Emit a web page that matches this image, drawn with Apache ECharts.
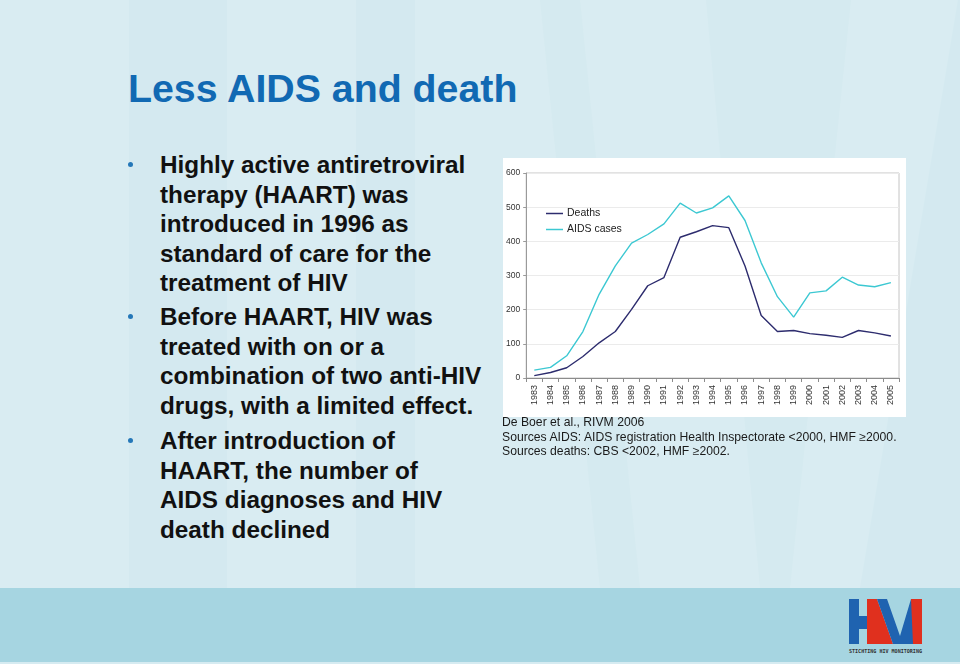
<!DOCTYPE html>
<html>
<head>
<meta charset="utf-8">
<script src="https://cdn.jsdelivr.net/npm/echarts@6/dist/echarts.min.js"></script>
<style>
html,body{margin:0;padding:0;}
body{width:960px;height:664px;position:relative;overflow:hidden;background:#d9ecf2;font-family:"Liberation Sans",Arial,Helvetica,sans-serif;}
#bg{position:absolute;left:0;top:0;}
#title{position:absolute;left:128px;top:69px;font-size:39.3px;line-height:1;font-weight:bold;color:#1169b3;white-space:nowrap;}
.para{position:absolute;left:160px;font-size:24.3px;line-height:29.5px;font-weight:bold;color:#111;white-space:nowrap;}
.dot{position:absolute;left:128px;width:5px;height:5px;border-radius:50%;background:#2477b8;}
#chart{position:absolute;left:503px;top:158px;width:403px;height:259px;background:#ffffff;}
#note{position:absolute;left:502px;top:415px;font-size:12.2px;line-height:14.6px;color:#1a1a1a;white-space:nowrap;}
</style>
</head>
<body>
<svg id="bg" width="960" height="664" xmlns="http://www.w3.org/2000/svg">
  <rect x="0" y="0" width="960" height="664" fill="#d9ecf2"/>
  <rect x="129" y="0" width="98" height="588" fill="#d4e9f0"/>
  <rect x="356" y="0" width="59" height="588" fill="#d4e9f0"/>
  <polygon points="540,0 580,0 640,588 600,588" fill="#d5eaf0"/>
  <polygon points="706,0 851,0 790,588 760,588" fill="#d5eaf0"/>
  <polygon points="958,0 960,0 960,588 860,588" fill="#d4e9f0"/>
  <rect x="0" y="588" width="960" height="74" fill="#a6d5e1"/>
  <rect x="0" y="662" width="960" height="2" fill="#d6ebf1"/>
  <!-- logo -->
  <rect x="849" y="599" width="10" height="45" fill="#1f63b0"/>
  <rect x="858" y="616" width="10" height="13" fill="#1f63b0"/>
  <polygon points="867,599 877,599 893,644 867,644" fill="#e0301e"/>
  <polygon points="877,599 887,599 900,636 911,599 913,599 913,644 893,644" fill="#1f63b0"/>
  <polygon points="911,599 922,599 922,644 913,644" fill="#e0301e"/>
  <text x="849" y="653" font-size="5.5" font-family="DejaVu Sans Mono, monospace" font-weight="bold" fill="#333" textLength="73" lengthAdjust="spacingAndGlyphs">STICHTING HIV MONITORING</text>
</svg>

<div id="title">Less AIDS and death</div>

<div class="dot" style="top:162px"></div>
<div class="para" style="top:150px">Highly active antiretroviral<br>therapy (HAART) was<br>introduced in 1996 as<br>standard of care for the<br>treatment of HIV</div>

<div class="dot" style="top:314px"></div>
<div class="para" style="top:302px">Before HAART, HIV was<br>treated with on or a<br>combination of two anti-HIV<br>drugs, with a limited effect.</div>

<div class="dot" style="top:438px"></div>
<div class="para" style="top:426px">After introduction of<br>HAART, the number of<br>AIDS diagnoses and HIV<br>death declined</div>

<div id="chart"></div>

<div id="note">De Boer et al., RIVM 2006<br>Sources AIDS: AIDS registration Health Inspectorate &lt;2000, HMF &#8805;2000.<br>Sources deaths: CBS &lt;2002, HMF &#8805;2002.</div>

<script>
// ---- data ----
const years = ['1983','1984','1985','1986','1987','1988','1989','1990','1991','1992','1993','1994','1995','1996','1997','1998','1999','2000','2001','2002','2003','2004','2005'];
const deaths = [7,16,30,63,103,136,201,270,294,412,428,446,440,328,183,136,139,130,125,119,139,132,123];
const aidsCases = [23,31,65,136,245,328,395,420,451,512,483,498,533,461,337,238,178,249,255,295,272,267,279];
const seriesNames = ['Deaths','AIDS cases'];
const yMin = 0, yMax = 600, yInterval = 100;

const chart = echarts.init(document.getElementById('chart'), null, {renderer:'canvas'});
chart.setOption({
  animation:false,
  backgroundColor:'#ffffff',
  textStyle:{fontFamily:'"Liberation Sans", Arial, sans-serif'},
  grid:{left:22,right:7,top:15,bottom:39,show:true,borderColor:'#c4c4c4',borderWidth:1,backgroundColor:'transparent',containLabel:false},
  legend:{
    orient:'vertical',left:43,top:50,padding:0,
    icon:'rect',
    itemWidth:17,itemHeight:1.5,itemGap:5,
    textStyle:{fontSize:10.5,color:'#222',fontFamily:'"Liberation Sans", Arial, sans-serif',padding:[0,0,0,-1]},
    data:seriesNames
  },
  xAxis:{
    type:'category',data:years,boundaryGap:true,
    axisLine:{lineStyle:{color:'#8c8c8c',width:1}},
    axisTick:{show:true,length:4,lineStyle:{color:'#8c8c8c'}},
    axisLabel:{rotate:90,fontSize:9,color:'#333',margin:7,interval:0}
  },
  yAxis:{
    type:'value',min:yMin,max:yMax,interval:yInterval,
    axisLine:{show:true,lineStyle:{color:'#9a9a9a',width:1}},
    axisTick:{show:true,length:3,lineStyle:{color:'#9a9a9a'}},
    axisLabel:{fontSize:8.5,color:'#333',margin:6},
    splitLine:{show:true,lineStyle:{color:'#ebebeb',width:1}}
  },
  series:[
    {name:seriesNames[0],type:'line',data:deaths,symbol:'none',lineStyle:{color:'#2d2c6e',width:1.4},itemStyle:{color:'#2d2c6e'}},
    {name:seriesNames[1],type:'line',data:aidsCases,symbol:'none',lineStyle:{color:'#3cc8d2',width:1.4},itemStyle:{color:'#3cc8d2'}}
  ]
});
</script>
</body>
</html>
